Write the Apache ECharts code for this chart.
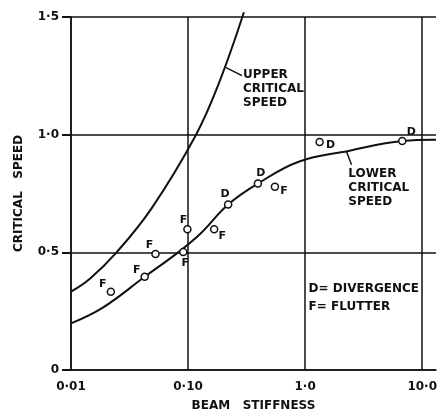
<!DOCTYPE html>
<html>
<head>
<meta charset="utf-8">
<script src="https://cdn.jsdelivr.net/npm/echarts@6/dist/echarts.min.js"></script>
<style>
    html, body { margin: 0; padding: 0; background: #fff; }
    #chart { width: 440px; height: 417px; }
</style>
</head>
<body>
<div id="chart"></div>
<script>
    // tick labels
    const xTickLabels = ['0·01', '0·10', '1·0', '10·0'];
    const yTickLabels = ['0', '0·5', '1·0', '1·5'];

    // upper critical speed curve
    const upperStiffness = [0.01, 0.0145, 0.0245, 0.0488, 0.117, 0.1845, 0.3];
    const upperSpeed = [0.333, 0.388, 0.5, 0.687, 1.0, 1.222, 1.52];

    // lower critical speed curve
    const lowerStiffness = [0.01, 0.0187, 0.0426, 0.0828, 0.128, 0.22, 0.395, 0.88, 2.34, 6.75, 13.1];
    const lowerSpeed = [0.198, 0.265, 0.396, 0.501, 0.58, 0.703, 0.792, 0.885, 0.931, 0.973, 0.978];

    // test points (F = flutter, D = divergence)
    const testStiffness = [0.0219, 0.0426, 0.0527, 0.091, 0.0987, 0.167, 0.22, 0.395, 0.552, 1.33, 6.75];
    const testSpeed = [0.333, 0.396, 0.493, 0.501, 0.598, 0.598, 0.703, 0.792, 0.779, 0.969, 0.973];
    const testType = ['F', 'F', 'F', 'F', 'F', 'F', 'D', 'D', 'F', 'D', 'D'];

    // where each point's letter sits relative to the circle (px)
    const letterOffsets = [[-8, -7], [-8, -7], [-6, -9], [2, 11], [-4, -9], [8, 7],
        [-3, -10], [3, -10], [9, 4], [11, 3], [9, -9]];

    const ink = '#111';
    const font = {fontFamily: 'DejaVu Sans', fontWeight: 'bold', fontSize: 12, color: ink};

    const myChart = echarts.init(document.getElementById('chart'));

    const pair = (xs, ys) => xs.map((x, i) => [x, ys[i]]);

    const points = testStiffness.map((x, i) => ({
        value: [x, testSpeed[i]],
        label: {
            show: true,
            formatter: testType[i],
            position: 'inside',
            offset: letterOffsets[i],
            ...font,
            fontSize: 11,
            textBorderWidth: 0
        }
    }));

    const note = (coord, text, lh) => ({
        coord: coord,
        symbol: 'circle',
        symbolSize: 0,
        label: {
            show: true,
            formatter: text,
            position: 'inside',
            align: 'left',
            verticalAlign: 'top',
            lineHeight: lh,
            ...font
        }
    });

    const leader = (a, b) => [{coord: a}, {coord: b}];

    const option = {
        animation: false,
        backgroundColor: '#fff',
        grid: {left: 71, right: 2, top: 17, bottom: 44},
        xAxis: {
            type: 'log',
            logBase: 10,
            min: 0.01,
            max: 13.1,
            name: 'BEAM   STIFFNESS',
            nameLocation: 'middle',
            nameGap: 30,
            nameTextStyle: {...font, fontSize: 12},
            axisLine: {lineStyle: {color: ink, width: 1.5}},
            axisTick: {show: false},
            axisLabel: {
                ...font,
                margin: 11,
                showMaxLabel: false,
                formatter: v => xTickLabels[Math.round(Math.log10(v)) + 2] || ''
            },
            splitLine: {show: true, showMaxLine: false, lineStyle: {color: ink, width: 1.5}},
            minorTick: {show: false},
            minorSplitLine: {show: false}
        },
        yAxis: {
            type: 'value',
            min: 0,
            max: 1.5,
            interval: 0.5,
            name: 'CRITICAL   SPEED',
            nameLocation: 'middle',
            nameGap: 46,
            nameTextStyle: {...font, fontSize: 12},
            axisLine: {show: true, lineStyle: {color: ink, width: 1.5}},
            axisTick: {show: true, length: 9, lineStyle: {color: ink, width: 2}},
            axisLabel: {
                ...font,
                margin: 12,
                formatter: v => yTickLabels[Math.round(v / 0.5)]
            },
            splitLine: {show: true, lineStyle: {color: ink, width: 1.5}}
        },
        series: [
            {
                name: 'upper',
                type: 'line',
                data: pair(upperStiffness, upperSpeed),
                smooth: 0.4,
                showSymbol: false,
                clip: false,
                lineStyle: {color: ink, width: 2},
                markLine: {
                    silent: true,
                    symbol: ['none', 'none'],
                    label: {show: false},
                    lineStyle: {color: ink, width: 1.5, type: 'solid'},
                    data: [leader([0.211, 1.285], [0.289, 1.251])]
                },
                markPoint: {
                    silent: true,
                    data: [note([0.295, 1.283], 'UPPER\nCRITICAL\nSPEED', 14)]
                }
            },
            {
                name: 'lower',
                type: 'line',
                data: pair(lowerStiffness, lowerSpeed),
                smooth: 0.4,
                showSymbol: false,
                lineStyle: {color: ink, width: 2},
                markLine: {
                    silent: true,
                    symbol: ['none', 'none'],
                    label: {show: false},
                    lineStyle: {color: ink, width: 1.5, type: 'solid'},
                    data: [leader([2.25, 0.931], [2.49, 0.872])]
                },
                markPoint: {
                    silent: true,
                    data: [
                        note([2.34, 0.862], 'LOWER\nCRITICAL\nSPEED', 14),
                        note([1.07, 0.383], 'D= DIVERGENCE\nF= FLUTTER', 18)
                    ]
                }
            },
            {
                name: 'tests',
                type: 'scatter',
                data: points,
                symbol: 'circle',
                symbolSize: 7,
                itemStyle: {color: '#fff', borderColor: ink, borderWidth: 1.5, opacity: 1},
                z: 5
            }
        ]
    };
    myChart.setOption(option);
</script>
</body>
</html>
